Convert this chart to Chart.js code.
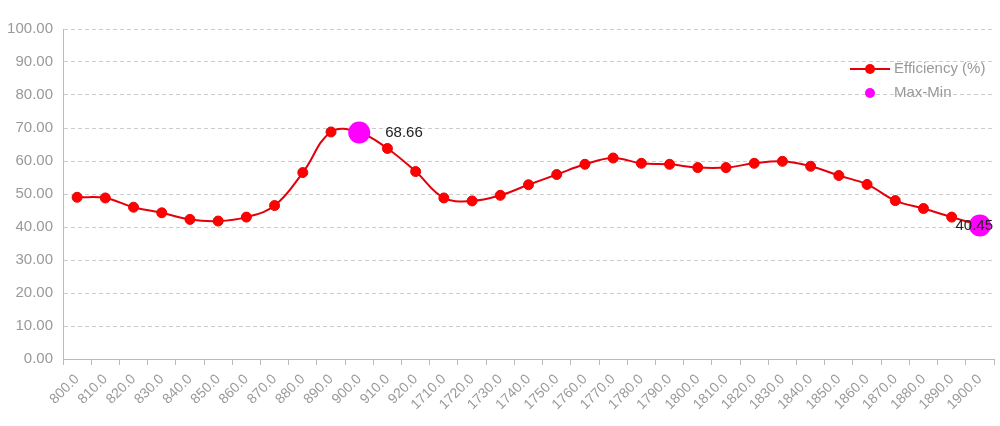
<!DOCTYPE html>
<html>
<head>
<meta charset="utf-8">
<script src="https://cdn.jsdelivr.net/npm/chart.js@4"></script>
<style>
  html,body{margin:0;padding:0;background:#fff;overflow:hidden;}
  #wrap{width:1000px;height:426px;position:relative;overflow:hidden;}
</style>
</head>
<body>
<div id="wrap"><canvas id="c" width="1005" height="426"></canvas></div>
<script>
// categories (x) and series values
const categories = ['800.0','810.0','820.0','830.0','840.0','850.0','860.0','870.0','880.0','890.0','900.0','910.0','920.0',
  '1710.0','1720.0','1730.0','1740.0','1750.0','1760.0','1770.0','1780.0','1790.0','1800.0','1810.0','1820.0','1830.0',
  '1840.0','1850.0','1860.0','1870.0','1880.0','1890.0','1900.0'];
const efficiency = [49.0,48.8,46.0,44.3,42.3,41.8,43.0,46.5,56.5,68.8,68.66,63.8,56.8,
  48.8,47.9,49.6,52.8,55.9,59.0,60.9,59.3,59.0,58.0,58.0,59.3,59.9,
  58.4,55.6,52.9,48.0,45.6,43.0,40.45];
const maxMin = categories.map(()=>null);
maxMin[10] = 68.66;
maxMin[32] = 40.45;
const yTicks = [0,10,20,30,40,50,60,70,80,90,100];

const FONT = '"Liberation Sans", Arial, sans-serif';
const VISIBLE_W = 1000;

// labels next to the max/min markers
const extremaLabels = {
  id: 'extremaLabels',
  afterDatasetsDraw(chart){
    const ctx = chart.ctx;
    const meta = chart.getDatasetMeta(1);
    ctx.save();
    ctx.font = '15px ' + FONT;
    ctx.fillStyle = '#222';
    ctx.textBaseline = 'middle';
    meta.data.forEach((pt, i)=>{
      const v = maxMin[i];
      if (v === null || v === undefined) return;
      const txt = v.toFixed(2);
      const w = ctx.measureText(txt).width;
      let x = pt.x + 26;
      if (x + w > VISIBLE_W - 7) x = VISIBLE_W - 7 - w;
      ctx.fillText(txt, x, pt.y);
    });
    ctx.restore();
  }
};

// legend drawn over the plot area, top right
const innerLegend = {
  id: 'innerLegend',
  afterDraw(chart){
    const ctx = chart.ctx;
    ctx.save();
    ctx.font = '15px ' + FONT;
    ctx.textBaseline = 'middle';
    // row 1
    ctx.strokeStyle = '#e3000b'; ctx.lineWidth = 2;
    ctx.beginPath(); ctx.moveTo(850, 69); ctx.lineTo(890, 69); ctx.stroke();
    ctx.fillStyle = '#f00';
    ctx.beginPath(); ctx.arc(870, 69, 5, 0, Math.PI*2); ctx.fill();
    ctx.fillStyle = '#999';
    ctx.fillText('Efficiency (%)', 894, 69);
    // row 2
    ctx.fillStyle = '#f0f';
    ctx.beginPath(); ctx.arc(870, 93, 5, 0, Math.PI*2); ctx.fill();
    ctx.fillStyle = '#999';
    ctx.fillText('Max-Min', 894, 93);
    ctx.restore();
  }
};

new Chart(document.getElementById('c'), {
  type: 'line',
  data: {
    labels: categories,
    datasets: [
      { label: 'Efficiency (%)', data: efficiency, borderColor: '#e3000b', backgroundColor: '#f00',
        borderWidth: 2, pointRadius: 5, pointBorderColor: '#e00', pointBorderWidth: 1, tension: 0.4, order: 2 },
      { label: 'Max-Min', data: maxMin, showLine: false, pointRadius: 11, pointBackgroundColor: '#f0f',
        pointBorderColor: '#f0f', pointBorderWidth: 0, order: 1 }
    ]
  },
  options: {
    responsive: false,
    devicePixelRatio: 1,
    animation: false,
    layout: { padding: { top: 29, right: 0, left: 0, bottom: 0 } },
    plugins: { legend: { display: false }, tooltip: { enabled: false } },
    scales: {
      x: {
        offset: true,
        grid: { drawOnChartArea: false, offset: true, color: '#bbb', tickLength: 6 },
        border: { color: '#bbb' },
        ticks: { color: '#999', font: { family: FONT, size: 14 }, maxRotation: 45, minRotation: 45, autoSkip: false, padding: 6 },
        afterFit(s){ s.height = 67; }
      },
      y: {
        min: 0, max: 100,
        afterBuildTicks(s){ s.ticks = yTicks.map(v=>({ value: v })); },
        grid: { color: '#ccc', drawTicks: false },
        border: { color: '#bbb', dash: [4, 3] },
        ticks: { color: '#999', font: { family: FONT, size: 15 }, padding: 10, callback: v => Number(v).toFixed(2) },
        afterFit(s){ s.width = 63; }
      }
    }
  },
  plugins: [extremaLabels, innerLegend]
});
</script>
</body>
</html>
